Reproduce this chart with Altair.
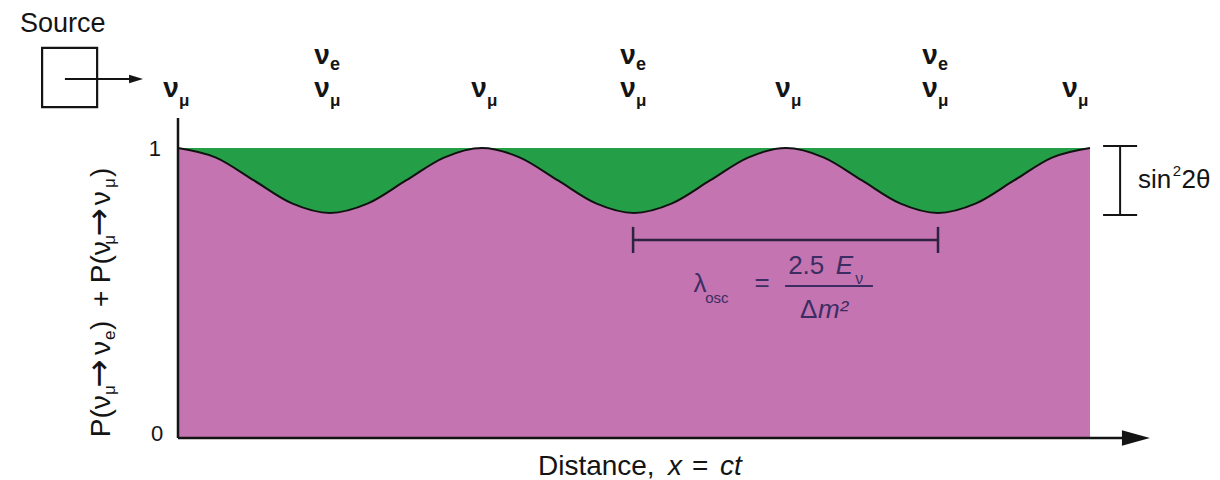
import altair as alt
import pandas as pd

# ---------------- data ----------------
# distance in units of the oscillation length, survival probability P(numu -> numu)
distance = [0.0, 0.125, 0.25, 0.375, 0.5, 0.625, 0.75, 0.875,
            1.0, 1.125, 1.25, 1.375, 1.5, 1.625, 1.75, 1.875,
            2.0, 2.125, 2.25, 2.375, 2.5, 2.625, 2.75, 2.875, 3.0]
p_survive = [1.0, 0.967, 0.888, 0.809, 0.776, 0.809, 0.888, 0.967,
             1.0, 0.967, 0.888, 0.809, 0.776, 0.809, 0.888, 0.967,
             1.0, 0.967, 0.888, 0.809, 0.776, 0.809, 0.888, 0.967, 1.0]

# neutrino flavour labels above the curve (x in oscillation lengths)
flavour_x_lower = [-0.023, 0.474, 0.990, 1.480, 1.990, 2.474, 2.934]
flavour_x_upper = [0.474, 1.480, 2.474]

tick_labels = ["1", "0"]
tick_values = [1.0, 0.0]

PURPLE = "#C474B0"
GREEN = "#259F47"
INK = "#141414"
FORMULA = "#3b2d63"
FONT = "Liberation Sans"

W, H = 1220, 480
XS = alt.Scale(domain=[-0.5855, 3.4276], nice=False, zero=False)
YS = alt.Scale(domain=[-0.1448, 1.5103], nice=False, zero=False)

curve = pd.DataFrame({"x": distance, "p": p_survive})
curve["top"] = 1.0
curve["base"] = 0.0


def X(f="x"):
    return alt.X(f"{f}:Q", scale=XS, axis=None)


def Y(f="y"):
    return alt.Y(f"{f}:Q", scale=YS, axis=None)


purple = alt.Chart(curve).mark_area(color=PURPLE, interpolate="monotone").encode(
    x=X(), y=Y("p"), y2="base:Q")
green = alt.Chart(curve).mark_area(color=GREEN, interpolate="monotone").encode(
    x=X(), y=Y("top"), y2="p:Q")
line = alt.Chart(curve).mark_line(color="#111111", strokeWidth=2, interpolate="monotone").encode(
    x=X(), y=Y("p"))


def text_layer(rows, **mark):
    df = pd.DataFrame(rows, columns=["x", "y", "t"])
    base = dict(font=FONT, color=INK)
    base.update(mark)
    return alt.Chart(df).mark_text(**base).encode(x=X(), y=Y(), text="t:N")


def seg_layer(rows, color=INK, width=2.5):
    df = pd.DataFrame(rows, columns=["x", "x2", "y", "y2"])
    return alt.Chart(df).mark_rule(color=color, strokeWidth=width).encode(
        x=X(), x2="x2:Q", y=Y(), y2="y2:Q")


layers = [purple, green, line]

# axes (drawn as lines with arrow head)
layers.append(seg_layer([(0.0, 0.0, 0.0, 1.103), (0.0, 3.125, 0.0, 0.0)], width=2.5))
arrow_df = pd.DataFrame({"x": [3.151], "y": [0.0]})
layers.append(alt.Chart(arrow_df).mark_point(
    shape="M -1 -0.55 L 1 0 L -1 0.55 Z", size=784, filled=True, color=INK, opacity=1).encode(
    x=X(), y=Y()))

# tick labels
layers.append(text_layer([(-0.0757, 0.997, "1"), (-0.069, 0.014, "0")],
                         fontSize=22, align="center", baseline="middle"))

# source box and arrow
box_df = pd.DataFrame({"x": [-0.447], "x2": [-0.266], "y": [1.345], "y2": [1.141]})
layers.append(alt.Chart(box_df).mark_rect(filled=False, stroke=INK, strokeWidth=2.2).encode(
    x=X(), x2="x2:Q", y=Y(), y2="y2:Q"))
layers.append(seg_layer([(-0.372, -0.13, 1.238, 1.238)], width=2))
src_arrow = pd.DataFrame({"x": [-0.138], "y": [1.238]})
layers.append(alt.Chart(src_arrow).mark_point(
    shape="M -1 -0.6 L 1 0 L -1 0.6 Z", size=196, filled=True, color=INK, opacity=1).encode(
    x=X(), y=Y()))
layers.append(text_layer([(-0.520, 1.400, "Source")], fontSize=27, align="left", baseline="alphabetic"))

# flavour labels
lower = [(x, 1.176, "ν") for x in flavour_x_lower]
upper = [(x, 1.290, "ν") for x in flavour_x_upper]
layers.append(text_layer(lower + upper, fontSize=28, fontWeight="bold", align="center",
                         baseline="alphabetic"))
layers.append(text_layer([(x, 1.176, "μ") for x in flavour_x_lower], fontSize=17,
                         fontWeight="bold", align="left", baseline="alphabetic", dx=8, dy=9))
layers.append(text_layer([(x, 1.290, "e") for x in flavour_x_upper], fontSize=18,
                         fontWeight="bold", align="left", baseline="alphabetic", dx=8, dy=6))

# rotated y-axis title, piece by piece
ymain = [(-0.2237, 0.003, "P(ν"), (-0.2237, 0.286, "ν"),
         (-0.2237, 0.372, ")"), (-0.2237, 0.452, "+"), (-0.2237, 0.534, "P(ν"),
         (-0.2237, 0.803, "ν"), (-0.2237, 0.900, ")")]
yarrow = [(-0.2237, 0.173, "→"), (-0.2237, 0.695, "→")]
ysub = [(-0.207, 0.148, "μ"), (-0.207, 0.338, "e"), (-0.207, 0.666, "μ"), (-0.207, 0.862, "μ")]
layers.append(text_layer(ymain, fontSize=28, angle=270, align="left", baseline="alphabetic"))
layers.append(text_layer(yarrow, fontSize=34, font="DejaVu Sans", angle=270, align="left",
                         baseline="alphabetic"))
layers.append(text_layer(ysub, fontSize=17, angle=270, align="left", baseline="alphabetic"))

# x-axis title
layers.append(text_layer([(1.184, -0.128, "Distance,"), (1.691, -0.128, "=")],
                         fontSize=28, align="left", baseline="alphabetic"))
layers.append(text_layer([(1.612, -0.128, "x"), (1.783, -0.128, "ct")],
                         fontSize=28, align="left", baseline="alphabetic", fontStyle="italic"))

# sin^2 2theta bracket
layers.append(seg_layer([(3.099, 3.099, 1.007, 0.769), (3.043, 3.155, 1.007, 1.007),
                         (3.043, 3.155, 0.769, 0.769)], width=2))
layers.append(text_layer([(3.158, 0.862, "sin"), (3.301, 0.862, "2θ")], fontSize=26,
                         align="left", baseline="alphabetic"))
layers.append(text_layer([(3.272, 0.905, "2")], fontSize=15, align="left", baseline="alphabetic"))

# oscillation length bracket and formula
layers.append(seg_layer([(1.497, 2.5, 0.683, 0.683), (1.497, 1.497, 0.638, 0.728),
                         (2.5, 2.5, 0.638, 0.728)], color="#2b2340", width=2.5))
layers.append(seg_layer([(1.997, 2.286, 0.524, 0.524)], color=FORMULA, width=2))
layers.append(text_layer([(1.717, 0.503, "λ")], fontSize=26, align="center",
                         baseline="alphabetic", color=FORMULA))
layers.append(text_layer([(1.734, 0.466, "osc")], fontSize=15, align="left",
                         baseline="alphabetic", color=FORMULA))
layers.append(text_layer([(1.921, 0.534, "=")], fontSize=26, align="center",
                         baseline="middle", color=FORMULA))
layers.append(text_layer([(2.007, 0.566, "2.5"), (2.046, 0.414, "Δ")], fontSize=26,
                         align="left", baseline="alphabetic", color=FORMULA))
layers.append(text_layer([(2.164, 0.566, "E"), (2.105, 0.414, "m²")], fontSize=26,
                         align="left", baseline="alphabetic", color=FORMULA, fontStyle="italic"))
layers.append(text_layer([(2.228, 0.531, "ν")], fontSize=16, align="left",
                         baseline="alphabetic", color=FORMULA))

chart = alt.layer(*layers).properties(
    width=W, height=H, padding=0, autosize="none", background="white"
).configure_view(stroke=None)

chart.save("out.html", embed_options={"renderer": "svg", "actions": False})
